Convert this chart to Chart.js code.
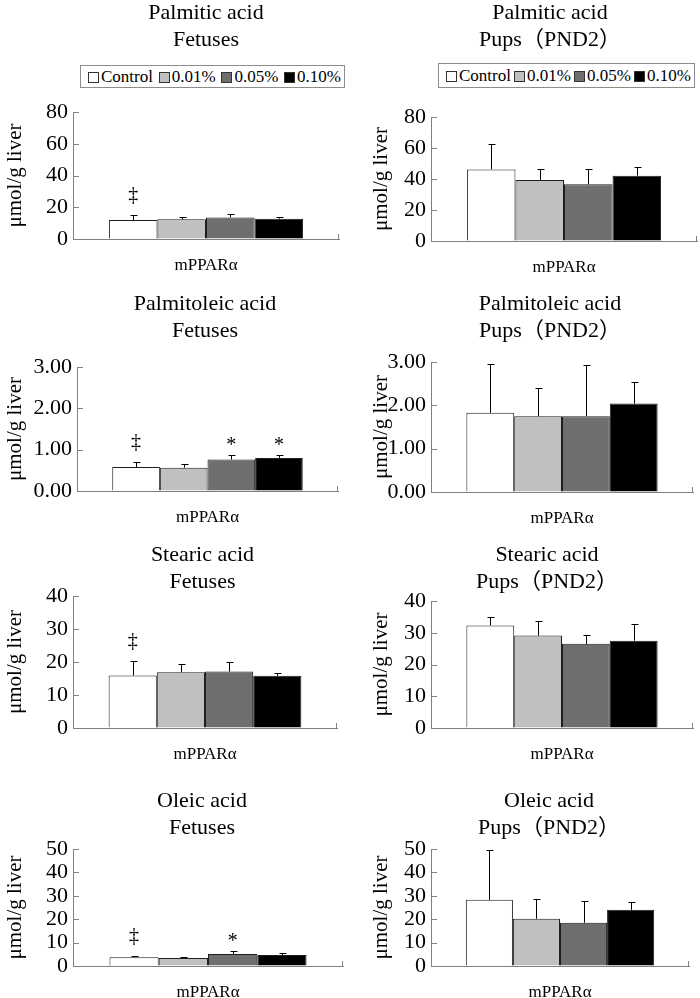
<!DOCTYPE html>
<html>
<head>
<meta charset="utf-8">
<title>Liver fatty acids - mPPARα</title>
<script src="https://cdn.jsdelivr.net/npm/chart.js@4.4.1/dist/chart.umd.min.js"></script>
<style>
  html, body { margin: 0; padding: 0; background: #fff; overflow: hidden; }
  body { width: 700px; height: 998px; position: relative; font-family: 'Liberation Serif', 'Noto Sans CJK JP', serif; }
  canvas { position: absolute; }
  .legend {
    position: absolute; display: flex; justify-content: space-between; align-items: center;
    box-sizing: border-box; border: 1px solid #8c8c8c; padding: 0 3px 0 7px;
    font-size: 17px; color: #000; background: #fff;
  }
  .legend .sw { display: inline-block; width: 11px; height: 11px; box-sizing: border-box; border: 1px solid #333; margin-right: 2px; vertical-align: -1px; }
</style>
</head>
<body>
<script>
// groups and category
const groups = ['Control', '0.01%', '0.05%', '0.10%'];
const category = ['mPPARα'];
const acids = ['Palmitic acid', 'Palmitoleic acid', 'Stearic acid', 'Oleic acid'];
const stages = ['Fetuses', 'Pups（PND2）'];

// means and upper error (SD)
const palmiticFetusMean = [12.0, 12.4, 13.6, 12.8];
const palmiticFetusSD   = [3.1, 1.6, 1.9, 0.8];
const palmiticPupMean   = [46.2, 39.4, 36.6, 42.1];
const palmiticPupSD     = [16.4, 6.8, 9.6, 5.8];

const palmitoleicFetusMean = [0.58, 0.565, 0.76, 0.80];
const palmitoleicFetusSD   = [0.12, 0.095, 0.10, 0.08];
const palmitoleicPupMean   = [1.83, 1.75, 1.75, 2.04];
const palmitoleicPupSD     = [1.13, 0.66, 1.17, 0.50];

const stearicFetusMean = [15.9, 16.9, 17.1, 15.8];
const stearicFetusSD   = [4.3, 2.5, 2.8, 0.8];
const stearicPupMean   = [32.3, 29.1, 26.5, 27.5];
const stearicPupSD     = [2.8, 4.7, 2.9, 5.2];

const oleicFetusMean = [3.7, 3.4, 5.1, 4.7];
const oleicFetusSD   = [0.7, 0.6, 1.3, 0.7];
const oleicPupMean   = [28.3, 20.2, 18.5, 24.0];
const oleicPupSD     = [21.1, 8.5, 9.3, 3.4];

// significance marks over each bar
const palmiticFetusMarks    = ['‡', '', '', ''];
const palmitoleicFetusMarks = ['‡', '', '*', '*'];
const stearicFetusMarks     = ['‡', '', '', ''];
const oleicFetusMarks       = ['‡', '', '*', ''];
const noMarks               = ['', '', '', ''];

// y axis ranges
const yMax   = [80, 3, 40, 50];
const yStep  = [20, 1, 10, 10];
const yDec   = [0, 2, 0, 0];

const groupColors = ['#ffffff', '#c0c0c0', '#6f6f6f', '#000000'];
const FONT = "'Liberation Serif', 'Noto Sans CJK JP', serif";
const AXIS = '#808080';

const panels = [
  { acid: 0, stage: 0, mean: palmiticFetusMean, sd: palmiticFetusSD, marks: palmiticFetusMarks },
  { acid: 0, stage: 1, mean: palmiticPupMean, sd: palmiticPupSD, marks: noMarks },
  { acid: 1, stage: 0, mean: palmitoleicFetusMean, sd: palmitoleicFetusSD, marks: palmitoleicFetusMarks },
  { acid: 1, stage: 1, mean: palmitoleicPupMean, sd: palmitoleicPupSD, marks: noMarks },
  { acid: 2, stage: 0, mean: stearicFetusMean, sd: stearicFetusSD, marks: stearicFetusMarks },
  { acid: 2, stage: 1, mean: stearicPupMean, sd: stearicPupSD, marks: noMarks },
  { acid: 3, stage: 0, mean: oleicFetusMean, sd: oleicFetusSD, marks: oleicFetusMarks },
  { acid: 3, stage: 1, mean: oleicPupMean, sd: oleicPupSD, marks: noMarks }
];

// where each panel sits on the page; the title is centred on the canvas,
// an empty right axis (rWidth) keeps the plot where the original has it
const boxes = [
  { x: 0,   y: -1,  w: 412, h: 276, yWidth: 73, rWidth: 73, gap: 58, yTitlePad: 3 },
  { x: 350, y: -1,  w: 400, h: 278, yWidth: 81, rWidth: 53, gap: 63, yTitlePad: 19 },
  { x: 0,   y: 290, w: 410, h: 237, yWidth: 77, rWidth: 72, gap: 22, yTitlePad: 3 },
  { x: 350, y: 290, w: 400, h: 238, yWidth: 81, rWidth: 57, gap: 17, yTitlePad: 19 },
  { x: 0,   y: 541, w: 405, h: 223, yWidth: 73, rWidth: 68, gap: 0,  yTitlePad: 3 },
  { x: 350, y: 541, w: 394, h: 223, yWidth: 81, rWidth: 51, gap: 5,  yTitlePad: 19 },
  { x: 0,   y: 787, w: 404, h: 215, yWidth: 73, rWidth: 61, gap: 7,  yTitlePad: 3 },
  { x: 350, y: 787, w: 398, h: 215, yWidth: 81, rWidth: 59, gap: 7,  yTitlePad: 19 }
];

const legendBoxes = [
  { x: 80,  y: 65, w: 265, h: 23 },
  { x: 438, y: 63, w: 257, h: 25 }
];

// inward tick marks, like the original axes
const innerTicks = {
  id: 'innerTicks',
  afterDraw(chart) {
    const { ctx, chartArea: a } = chart;
    const y = chart.scales.y;
    ctx.save();
    ctx.strokeStyle = AXIS;
    ctx.lineWidth = 1;
    ctx.beginPath();
    y.ticks.forEach(t => {
      const py = Math.round(y.getPixelForValue(t.value)) + 0.5;
      ctx.moveTo(a.left, py);
      ctx.lineTo(a.left + 6, py);
    });
    const rx = Math.round(a.right) - 0.5;
    ctx.moveTo(rx, a.bottom);
    ctx.lineTo(rx, a.bottom - 5);
    ctx.stroke();
    ctx.restore();
  }
};

// error bars (upper only) plus significance marks
const markOffset = { '‡': 15, '*': 5 };
const errorBars = {
  id: 'errorBars',
  afterDatasetsDraw(chart) {
    const { ctx } = chart;
    const y = chart.scales.y;
    ctx.save();
    ctx.strokeStyle = '#000';
    ctx.fillStyle = '#000';
    ctx.lineWidth = 1;
    ctx.font = '20px ' + FONT;
    ctx.textAlign = 'center';
    ctx.textBaseline = 'alphabetic';
    chart.data.datasets.forEach((ds, i) => {
      chart.getDatasetMeta(i).data.forEach((bar, j) => {
        const top = Math.round(y.getPixelForValue(ds.data[j] + ds.sd[j])) + 0.5;
        const x = Math.round(bar.x) + 0.5;
        ctx.beginPath();
        ctx.moveTo(x, bar.y);
        ctx.lineTo(x, top);
        ctx.moveTo(x - 3, top);
        ctx.lineTo(x + 4, top);
        ctx.stroke();
        const m = ds.marks[j];
        if (m) ctx.fillText(m, bar.x, top - markOffset[m]);
      });
    });
    ctx.restore();
  }
};

function makeChart(p, b) {
  const canvas = document.createElement('canvas');
  canvas.width = b.w;
  canvas.height = b.h;
  canvas.style.left = b.x + 'px';
  canvas.style.top = b.y + 'px';
  canvas.style.width = b.w + 'px';
  canvas.style.height = b.h + 'px';
  document.body.appendChild(canvas);

  return new Chart(canvas, {
    type: 'bar',
    data: {
      labels: category,
      datasets: groups.map((g, i) => ({
        label: g,
        data: [p.mean[i]],
        sd: [p.sd[i]],
        marks: [p.marks[i]],
        backgroundColor: groupColors[i],
        borderColor: '#1e1e1e',
        borderWidth: 1,
        categoryPercentage: 0.73,
        barPercentage: 1
      }))
    },
    options: {
      responsive: false,
      animation: false,
      devicePixelRatio: 1,
      layout: { padding: 0 },
      plugins: {
        legend: { display: false },
        tooltip: { enabled: false },
        title: {
          display: true,
          text: [acids[p.acid], stages[p.stage]],
          color: '#000',
          font: { family: FONT, size: 22, weight: 'normal', lineHeight: 1.25 },
          padding: { top: 0, bottom: b.gap }
        }
      },
      scales: {
        x: {
          grid: { offset: true, drawOnChartArea: false, drawTicks: false },
          border: { color: AXIS, width: 1 },
          ticks: { color: '#000', font: { family: FONT, size: 17 }, padding: 16 },
          afterFit: s => { s.height = 36; }
        },
        y: {
          min: 0,
          max: yMax[p.acid],
          grid: { drawOnChartArea: false, drawTicks: false },
          border: { color: AXIS, width: 1 },
          ticks: {
            stepSize: yStep[p.acid],
            autoSkip: false,
            color: '#000',
            font: { family: FONT, size: 22 },
            padding: 5,
            callback: v => v.toFixed(yDec[p.acid])
          },
          title: {
            display: true,
            text: 'μmol/g liver',
            color: '#000',
            font: { family: FONT, size: 21 },
            padding: { top: b.yTitlePad, bottom: 0 }
          },
          afterFit: s => { s.width = b.yWidth; }
        },
        spacer: {
          type: 'linear',
          position: 'right',
          grid: { display: false },
          border: { display: false },
          ticks: { display: false },
          afterFit: s => { s.width = b.rWidth; }
        }
      }
    },
    plugins: [errorBars, innerTicks]
  });
}

function makeLegend(b) {
  const div = document.createElement('div');
  div.className = 'legend';
  div.style.left = b.x + 'px';
  div.style.top = b.y + 'px';
  div.style.width = b.w + 'px';
  div.style.height = b.h + 'px';
  groups.forEach((g, i) => {
    const item = document.createElement('span');
    item.innerHTML = `<span class="sw" style="background:${groupColors[i]}"></span>${g}`;
    div.appendChild(item);
  });
  document.body.appendChild(div);
}

panels.forEach((p, i) => makeChart(p, boxes[i]));
legendBoxes.forEach(makeLegend);
</script>
</body>
</html>
